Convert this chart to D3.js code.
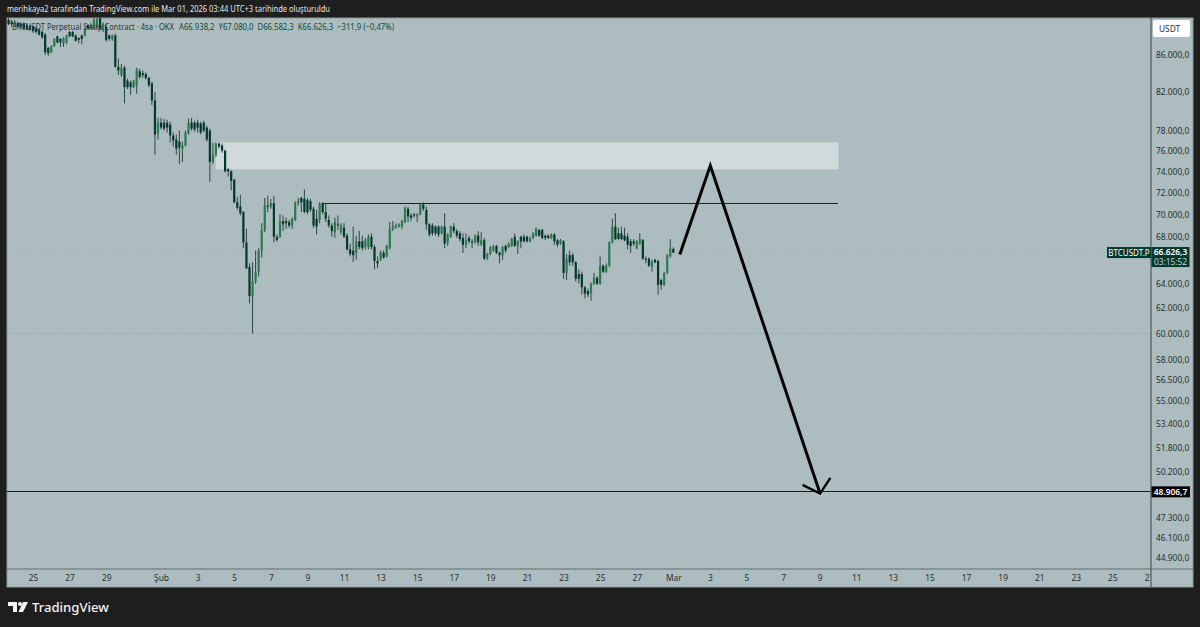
<!DOCTYPE html>
<html>

<script src="https://cdn.jsdelivr.net/npm/d3@7/dist/d3.min.js"></script>

<style>

  body, html {
    padding: 0;
    margin: 0;
    height: 100%;
    width: 100%;
    background: #1e1e1e;
    overflow: hidden;
  }

  svg {
    display: block;
    font-family: "Noto Sans", sans-serif;
  }

  .axis text {
    fill: #26302f;
    font-size: 8.4px;
    font-family: "Noto Sans", sans-serif;
  }

</style>

<body>
  <svg width="1200" height="627"></svg>

  <script>

    // 4h candles, prices in thousand USDT, last candle opens Mar 1 00:00 UTC
    var opens = [
      90.0,89.8,89.4,89.6,89.5,89.5,89.4,89.3,89.2,89.0,
      88.8,88.6,88.3,86.8,86.3,87.0,88.1,87.8,87.3,87.4,
      88.6,88.6,88.2,87.9,88.2,88.2,89.4,89.0,89.0,89.2,
      90.3,88.8,89.2,88.2,87.8,88.2,84.7,83.8,84.6,83.2,
      83.0,82.5,82.7,84.2,84.0,83.9,83.5,82.9,81.1,77.7,
      78.8,78.8,78.8,78.6,77.5,77.1,76.9,76.2,76.5,77.7,
      78.8,78.8,78.8,78.7,78.8,78.3,78.0,74.9,75.6,76.7,
      76.5,76.0,74.2,74.0,73.2,71.1,70.7,70.2,67.5,65.4,
      63.0,64.2,65.0,66.8,68.6,70.8,70.7,71.0,68.0,68.0,
      69.4,69.4,69.3,69.0,69.5,71.0,71.5,71.4,71.3,71.2,
      70.5,69.6,69.5,71.0,70.2,69.5,69.0,68.4,69.1,68.4,
      68.8,68.1,66.9,66.8,66.6,67.6,67.6,67.1,67.1,68.0,
      67.1,65.9,66.0,66.6,66.3,67.0,68.7,68.8,68.9,68.9,
      69.3,70.5,69.9,70.0,69.8,70.0,70.9,70.4,69.1,69.0,
      68.9,68.9,68.3,68.9,67.5,68.0,68.9,68.5,68.3,67.9,
      67.3,67.9,67.6,67.5,68.1,67.3,67.7,66.2,66.5,66.8,
      67.2,66.6,66.4,67.2,67.1,67.2,68.0,67.2,68.0,68.0,
      68.0,67.6,67.9,68.1,68.6,68.6,68.1,68.1,67.9,68.2,
      67.7,67.4,67.6,64.9,66.4,66.4,65.8,64.8,64.8,63.7,
      63.4,63.2,64.0,64.5,64.0,65.5,65.0,65.5,67.5,68.9,
      68.3,68.3,68.1,68.0,67.6,67.6,67.0,67.4,67.7,66.1,
      66.1,65.4,66.0,65.9,64.3,63.9,64.9,66.3,66.938
    ];

    var highs = [
      90.2,90.0,90.0,89.8,89.7,89.7,89.6,89.4,89.3,89.2,
      89.0,88.8,88.5,86.9,87.1,87.9,88.2,87.9,88.0,88.3,
      88.7,88.7,88.3,88.0,88.3,89.1,89.5,89.6,90.2,90.3,
      90.8,89.7,89.5,88.3,88.3,88.4,85.6,85.0,84.8,83.4,
      83.2,83.3,84.6,84.5,84.3,84.1,83.6,83.1,82.0,79.3,
      79.3,79.2,79.1,78.9,77.8,77.6,78.0,76.9,78.0,79.2,
      79.3,79.0,79.1,78.9,79.0,78.5,78.2,76.8,76.8,76.8,
      76.7,76.1,74.3,74.1,73.3,71.6,71.8,70.3,68.7,65.7,
      65.8,66.8,67.0,69.2,71.5,71.7,71.4,71.7,68.2,70.0,
      69.9,69.7,69.5,69.7,71.2,71.5,71.6,72.3,71.5,71.4,
      70.7,70.4,71.1,71.1,71.0,69.9,69.2,69.7,69.9,69.2,
      69.2,68.3,67.4,68.9,68.1,68.5,68.1,67.9,68.2,68.3,
      67.3,66.3,66.8,66.8,67.3,69.3,69.4,69.2,69.2,69.5,
      70.7,70.7,70.1,70.1,70.1,71.0,71.1,70.7,69.2,69.2,
      69.0,69.0,69.0,70.1,68.3,69.0,69.2,68.7,68.5,68.3,
      68.3,68.1,67.8,68.2,68.5,68.4,67.9,66.6,67.2,67.3,
      67.3,66.7,67.2,67.3,67.5,67.9,68.3,67.7,68.1,68.2,
      68.1,68.0,68.4,68.8,68.7,68.7,68.2,68.2,68.3,68.3,
      67.8,67.8,67.7,66.5,66.8,66.6,65.9,65.2,65.0,63.8,
      63.6,64.1,64.9,64.6,66.3,65.6,65.7,67.6,69.6,70.1,
      68.8,68.9,68.8,68.3,67.8,67.8,67.7,68.3,67.8,66.3,
      66.2,66.0,66.1,66.0,64.4,65.0,66.5,67.8,67.08
    ];

    var lows = [
      89.4,89.2,89.2,89.0,88.9,88.9,88.8,88.7,88.5,88.4,
      88.2,87.8,86.0,85.9,86.2,86.9,87.3,86.9,86.9,87.2,
      88.0,88.0,87.5,87.3,87.2,88.1,88.9,88.9,88.9,89.0,
      88.8,88.6,87.5,87.6,87.6,84.6,83.8,83.6,80.8,82.3,
      81.7,82.4,81.8,83.4,83.5,83.3,82.5,80.6,75.6,77.1,
      78.1,78.0,77.8,76.8,76.4,75.6,74.7,74.9,76.4,77.6,
      78.0,77.9,77.8,77.6,77.8,76.9,73.0,74.7,75.4,76.2,
      75.8,73.9,73.5,72.2,71.0,70.4,69.9,67.0,65.2,62.4,
      60.0,64.0,64.6,66.2,68.4,70.2,70.5,67.5,67.6,67.9,
      68.5,68.7,68.8,68.7,69.4,70.8,70.2,70.1,70.0,70.2,
      68.8,68.2,69.2,70.0,69.3,68.8,68.0,67.9,68.6,68.2,
      67.9,66.8,66.3,65.8,66.0,66.9,66.8,66.9,66.9,66.9,
      65.2,65.3,65.9,66.1,66.2,66.9,68.5,68.7,68.8,68.7,
      69.2,69.3,69.4,69.7,69.3,69.9,70.3,68.6,68.0,68.1,
      68.1,68.0,68.2,67.0,67.2,67.9,68.3,67.9,67.6,66.6,
      67.0,67.4,67.0,67.4,67.2,67.2,66.0,66.0,66.4,66.7,
      66.5,65.7,66.0,66.6,67.0,67.1,67.1,66.5,67.0,67.5,
      67.5,67.5,67.8,68.0,68.0,67.8,67.7,67.8,67.8,67.3,
      67.1,67.3,64.4,64.3,65.5,65.5,64.2,64.0,63.1,62.8,
      62.9,62.6,63.9,63.9,63.9,64.9,64.9,65.4,67.4,67.7,
      67.7,67.7,67.6,66.9,66.6,67.2,66.9,67.3,66.0,65.7,
      65.4,65.0,65.7,63.1,63.5,63.8,64.8,66.2,66.582
    ];

    var closes = [
      89.5,89.5,89.8,89.2,89.2,89.0,88.9,88.9,88.7,88.6,
      88.3,88.0,86.3,86.2,87.0,87.8,87.4,87.4,87.9,88.2,
      88.1,88.1,87.6,87.7,87.8,89.0,89.0,89.5,90.0,90.1,
      89.0,89.5,87.7,87.8,88.2,84.7,84.3,84.6,82.5,82.5,
      82.5,83.2,84.4,83.6,83.8,83.5,82.7,81.1,77.6,78.8,
      78.3,78.2,78.3,77.5,77.0,76.2,76.3,76.5,77.8,78.8,
      78.2,78.1,78.3,77.8,78.0,77.1,74.9,75.6,76.7,76.4,
      76.0,74.0,74.0,73.1,71.1,70.6,70.1,67.5,65.3,63.0,
      64.2,65.0,66.8,68.6,70.8,70.7,71.0,68.0,67.7,69.4,
      69.1,69.2,69.0,69.6,71.0,71.2,71.1,70.2,70.2,70.4,
      69.0,68.9,71.0,70.2,69.6,69.0,68.5,69.3,69.0,69.0,
      68.0,66.9,66.5,66.4,67.6,67.1,67.0,67.7,68.0,67.1,
      65.9,65.7,66.6,66.2,67.2,68.7,68.9,69.0,69.1,69.4,
      70.6,69.8,69.7,69.9,70.0,70.9,70.5,69.1,68.2,68.3,
      68.3,68.2,68.9,67.4,68.2,68.9,68.5,68.1,67.8,67.3,
      67.7,67.6,67.5,68.1,67.5,67.7,66.1,66.5,67.1,67.2,
      66.6,66.4,67.1,66.8,67.4,67.8,67.2,67.6,67.6,67.6,
      67.6,67.9,68.3,68.7,68.1,67.9,67.9,67.9,68.2,67.6,
      67.3,67.7,64.9,66.1,65.8,65.8,64.4,64.4,63.7,63.2,
      63.1,64.0,64.5,64.0,65.5,65.0,65.5,67.5,68.9,67.8,
      67.8,67.8,67.7,67.3,67.2,67.4,67.6,67.8,66.1,66.0,
      65.5,65.9,65.8,63.9,63.9,64.9,66.4,67.0,66.626
    ];

    var priceTicks = [86, 82, 78, 76, 74, 72, 70, 68, 64, 62, 60, 58, 56.5, 55, 53.4, 51.8, 50.2, 47.3, 46.1, 44.9];

    var dayTicks = ['2026-01-25', '2026-01-27', '2026-01-29', '2026-02-01', '2026-02-03', '2026-02-05', '2026-02-07',
      '2026-02-09', '2026-02-11', '2026-02-13', '2026-02-15', '2026-02-17', '2026-02-19', '2026-02-21', '2026-02-23',
      '2026-02-25', '2026-02-27', '2026-03-01', '2026-03-03', '2026-03-05', '2026-03-07', '2026-03-09', '2026-03-11',
      '2026-03-13', '2026-03-15', '2026-03-17', '2026-03-19', '2026-03-21', '2026-03-23', '2026-03-25', '2026-03-27'];

    // things the author drew on the chart
    var zoneTimes = ['2026-02-03T23:30Z', '2026-03-10T00:30Z'];
    var zonePrices = [76.82, 74.18];
    var levelTimes = ['2026-02-09T20:00Z', '2026-03-10T00:30Z'];
    var levelPrice = 70.95;
    var supportLow = 60.0;
    var targetPrice = 48.9067;
    var lastPrice = 66.6263;
    var arrowTimes = ['2026-03-01T08:30Z', '2026-03-03T00:30Z', '2026-03-09T00:30Z'];
    var arrowPrices = [66.45, 74.55, 48.8];
    var headTimes = ['2026-03-08T01:30Z', '2026-03-09T00:30Z', '2026-03-09T14:00Z'];
    var headPrices = [49.35, 48.8, 49.8];

    var parse = function (s) { return new Date(s); };
    var lastOpen = Date.UTC(2026, 2, 1);
    var fourHours = 4 * 3600 * 1000;

    var locale = d3.formatLocale({decimal: ',', thousands: '.', grouping: [3], currency: ['', '']});
    var priceFormat = locale.format(',.1f');

    var plotLeft = 7, plotRight = 1151, outerRight = 1193, plotTop = 18, plotBottom = 569, outerBottom = 587;

    var x = d3.scaleUtc().domain([new Date('2026-01-25'), new Date('2026-03-27')]).range([33, 1149]),
        y = d3.scaleLog().domain([86, 44.9]).range([55, 558]);

    var svg = d3.select('svg');

    svg.append('rect').attr('x', plotLeft).attr('y', plotTop)
      .attr('width', outerRight - plotLeft).attr('height', outerBottom - plotTop)
      .attr('fill', '#adbdbf').attr('stroke', '#8c9a9b').attr('stroke-width', 1);

    svg.append('clipPath').attr('id', 'plot').append('rect')
      .attr('x', plotLeft).attr('y', plotTop).attr('width', plotRight - plotLeft).attr('height', plotBottom - plotTop);

    var plot = svg.append('g').attr('clip-path', 'url(#plot)');

    // zone, levels
    plot.append('rect')
      .attr('x', x(parse(zoneTimes[0]))).attr('y', y(zonePrices[0]))
      .attr('width', x(parse(zoneTimes[1])) - x(parse(zoneTimes[0])))
      .attr('height', y(zonePrices[1]) - y(zonePrices[0]))
      .attr('fill', '#d0dadb');

    plot.append('line')
      .attr('x1', plotLeft).attr('x2', plotRight).attr('y1', y(lastPrice)).attr('y2', y(lastPrice))
      .attr('stroke', '#b7aaa8').attr('stroke-width', 1).attr('stroke-dasharray', '1 2');

    plot.append('line')
      .attr('x1', plotLeft).attr('x2', plotRight).attr('y1', y(supportLow)).attr('y2', y(supportLow))
      .attr('stroke', '#929f9f').attr('stroke-width', 1).attr('stroke-dasharray', '1 2');

    plot.append('line')
      .attr('x1', x(parse(levelTimes[0]))).attr('x2', x(parse(levelTimes[1])))
      .attr('y1', y(levelPrice)).attr('y2', y(levelPrice))
      .attr('stroke', '#1b2422').attr('stroke-width', 1).attr('shape-rendering', 'crispEdges');

    plot.append('line')
      .attr('x1', plotLeft).attr('x2', plotRight).attr('y1', y(targetPrice)).attr('y2', y(targetPrice))
      .attr('stroke', '#18201f').attr('stroke-width', 1).attr('shape-rendering', 'crispEdges');

    // candles
    var candles = d3.range(closes.length).map(function (i) {
      return {
        t: new Date(lastOpen - (closes.length - 1 - i) * fourHours),
        o: opens[i], h: highs[i], l: lows[i], c: closes[i]
      };
    });

    var candle = plot.selectAll('.candle').data(candles).enter().append('g').attr('class', 'candle');

    candle.append('line')
      .attr('x1', function (d) { return x(d.t); })
      .attr('x2', function (d) { return x(d.t); })
      .attr('y1', function (d) { return y(d.h); })
      .attr('y2', function (d) { return y(d.l); })
      .attr('stroke', '#2f4744').attr('stroke-width', 1);

    candle.append('rect')
      .attr('x', function (d) { return x(d.t) - 1.1; })
      .attr('y', function (d) { return y(Math.max(d.o, d.c)); })
      .attr('width', 2.2)
      .attr('height', function (d) { return Math.max(1, Math.abs(y(d.o) - y(d.c))); })
      .attr('fill', function (d) { return d.c >= d.o ? '#2c7a52' : '#04382d'; });

    // arrow
    var line = d3.line()
      .x(function (d) { return x(parse(d[0])); })
      .y(function (d) { return y(d[1]); });

    plot.append('path').datum(d3.zip(arrowTimes, arrowPrices)).attr('d', line)
      .attr('fill', 'none').attr('stroke', '#050505').attr('stroke-width', 3);

    plot.append('path').datum(d3.zip(headTimes, headPrices)).attr('d', line)
      .attr('fill', 'none').attr('stroke', '#050505').attr('stroke-width', 2.4);

    // axes
    var priceAxis = d3.axisRight(y).tickValues(priceTicks).tickSize(0).tickPadding(5)
      .tickFormat(function (d) { return priceFormat(d * 1000); });

    svg.append('g').attr('class', 'axis').attr('transform', 'translate(' + plotRight + ',0)').call(priceAxis)
      .call(function (g) { g.select('.domain').remove(); });

    var timeAxis = d3.axisBottom(x).tickValues(dayTicks.map(parse)).tickSize(0).tickPadding(6)
      .tickFormat(function (d) {
        if (d.getUTCDate() === 1) return d.getUTCMonth() === 1 ? 'Şub' : 'Mar';
        return d.getUTCDate();
      });

    svg.append('clipPath').attr('id', 'timeclip').append('rect')
      .attr('x', plotLeft).attr('y', plotBottom).attr('width', plotRight - plotLeft).attr('height', outerBottom - plotBottom);

    svg.append('g').attr('class', 'axis').attr('clip-path', 'url(#timeclip)')
      .append('g').attr('transform', 'translate(0,' + plotBottom + ')').call(timeAxis)
      .call(function (g) { g.select('.domain').remove(); });

    svg.append('line').attr('x1', plotLeft).attr('x2', outerRight).attr('y1', plotBottom).attr('y2', plotBottom)
      .attr('stroke', '#5f6d6d').attr('stroke-width', 1.2);

    svg.append('line').attr('x1', plotRight).attr('x2', plotRight).attr('y1', plotTop).attr('y2', outerBottom)
      .attr('stroke', '#4e5b5c').attr('stroke-width', 1.2);

    // header, legend
    svg.append('text').attr('x', 7).attr('y', 12).attr('fill', '#e6e6e6').attr('font-size', 8.6)
      .attr('textLength', 323).attr('lengthAdjust', 'spacingAndGlyphs')
      .text('merihkaya2 tarafından TradingView.com ile Mar 01, 2026 03:44 UTC+3 tarihinde oluşturuldu');

    svg.append('text').attr('x', 12).attr('y', 30).attr('fill', '#2a3534').attr('font-size', 8.6)
      .attr('textLength', 162).attr('lengthAdjust', 'spacingAndGlyphs')
      .text('BTCUSDT Perpetual Swap Contract · 4sa · OKX');

    svg.append('text').attr('x', 179).attr('y', 30).attr('fill', '#0f4a3c').attr('font-size', 8.6)
      .attr('textLength', 215).attr('lengthAdjust', 'spacingAndGlyphs')
      .attr('xml:space', 'preserve')
      .text('A66.938,2  Y67.080,0  D66.582,3  K66.626,3  −311,9 (−0,47%)');

    // USDT button
    svg.append('rect').attr('x', 1153).attr('y', 20).attr('width', 37).attr('height', 17).attr('rx', 2).attr('fill', '#ffffff');
    svg.append('text').attr('x', 1159).attr('y', 32).attr('fill', '#2a3534').attr('font-size', 8.4).text('USDT');

    // price labels
    svg.append('rect').attr('x', 1107).attr('y', y(lastPrice) - 5.5).attr('width', 44).attr('height', 11).attr('fill', '#04382d');
    svg.append('text').attr('x', 1129).attr('y', y(lastPrice) + 3).attr('fill', '#ffffff').attr('font-size', 8)
      .attr('text-anchor', 'middle').text('BTCUSDT.P');

    svg.append('rect').attr('x', 1151.5).attr('y', y(lastPrice) - 5.5).attr('width', 38).attr('height', 20).attr('fill', '#04382d');
    svg.append('text').attr('x', 1170.5).attr('y', y(lastPrice) + 2.5).attr('fill', '#ffffff').attr('font-size', 8.4)
      .attr('font-weight', 600).attr('text-anchor', 'middle').text(priceFormat(lastPrice * 1000));
    svg.append('text').attr('x', 1170.5).attr('y', y(lastPrice) + 12).attr('fill', '#c5d2cf').attr('font-size', 8.4)
      .attr('text-anchor', 'middle').text('03:15:52');

    svg.append('rect').attr('x', 1151.5).attr('y', y(targetPrice) - 5.5).attr('width', 38.5).attr('height', 11).attr('fill', '#000000');
    svg.append('text').attr('x', 1170.5).attr('y', y(targetPrice) + 3).attr('fill', '#ffffff').attr('font-size', 8.4)
      .attr('font-weight', 600).attr('text-anchor', 'middle').text(priceFormat(targetPrice * 1000));

    // logo
    var logo = svg.append('g').attr('transform', 'translate(8,602)').attr('fill', '#f2f2f2');
    logo.append('path').attr('d', 'M0 0H9V10H5V4H0Z');
    logo.append('circle').attr('cx', 12).attr('cy', 2).attr('r', 2);
    logo.append('path').attr('d', 'M15 0H20L15 10H10.5Z');
    svg.append('text').attr('x', 32).attr('y', 612).attr('fill', '#f2f2f2').attr('font-size', 13.1)
      .attr('font-weight', 500).text('TradingView');

  </script>
</body>
</html>
